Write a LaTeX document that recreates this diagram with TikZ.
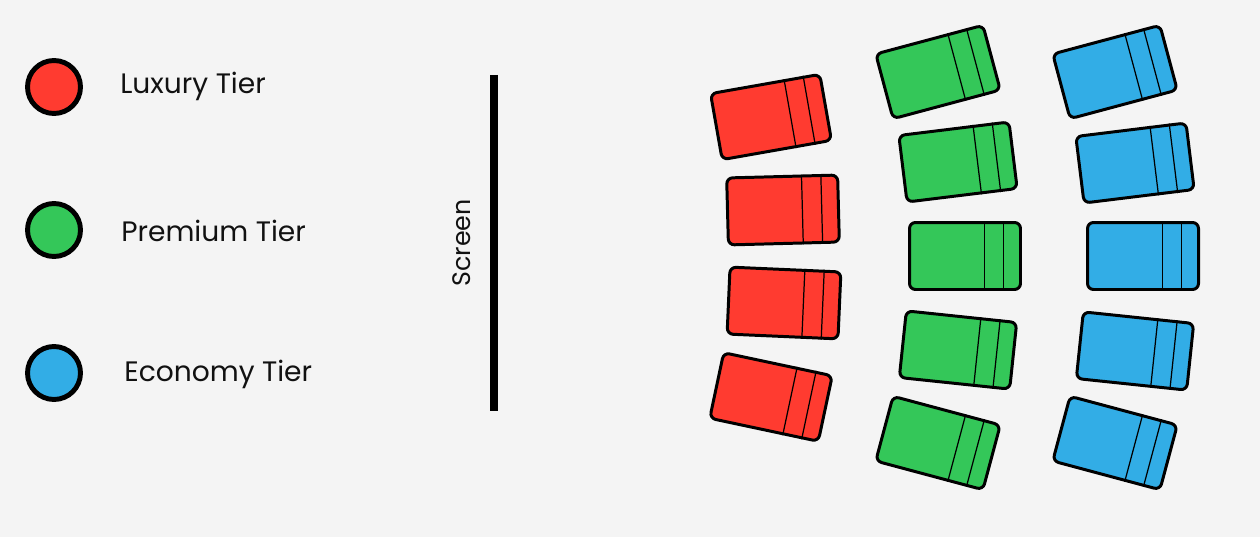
\documentclass[tikz,border=0pt]{standalone}
\usepackage{fontspec}
\setmainfont{Poppins}
\usepackage{tikz}
\usetikzlibrary{calc}

\definecolor{bg}{HTML}{F4F4F4}
\definecolor{luxury}{HTML}{FF3B30}
\definecolor{premium}{HTML}{34C759}
\definecolor{economy}{HTML}{32ADE6}
\definecolor{ink}{HTML}{111111}

\begin{document}
\begin{tikzpicture}[x=0.02cm,y=-0.02cm,
  dot/.style={circle,draw=black,line width=2.8pt,minimum size=1.06cm,inner sep=0pt},
  tier/.style={anchor=west,inner sep=0pt,text=ink,font=\fontsize{16}{18}\selectfont},
  seat/.style={rectangle,rounded corners=3.4pt,draw=black,line width=1.7pt,
    minimum width=2.22cm,minimum height=1.34cm,inner sep=0pt,fill=#1,
    append after command={\pgfextra{\let\seatnode\tikzlastnode}
      ($(\seatnode.north west)!0.67!(\seatnode.north east)$) edge[-,line width=0.7pt,draw=black]
      ($(\seatnode.south west)!0.67!(\seatnode.south east)$)
      ($(\seatnode.north west)!0.84!(\seatnode.north east)$) edge[-,line width=0.7pt,draw=black]
      ($(\seatnode.south west)!0.84!(\seatnode.south east)$)}}]

  \fill[bg] (0,0) rectangle (1260,537);
  \useasboundingbox (0,0) rectangle (1260,537);

  % legend
  \node[dot,fill=luxury] (d1) at (54,87) {};
  \node[dot,fill=premium] (d2) at (54,230) {};
  \node[dot,fill=economy] (d3) at (54,373) {};
  \node[tier] (t1) at (120,86) {Luxury Tier};
  \node[tier] (t2) at (121,231) {Premium Tier};
  \node[tier] (t3) at (124,374) {Economy Tier};

  % screen
  \coordinate (s top) at (494,75);
  \coordinate (s bottom) at (494,411);
  \draw[line width=4pt,black] (s top) -- (s bottom);
  \node[text=ink,font=\fontsize{14.4}{16}\selectfont,rotate=90] (screen) at (462,243) {Screen};

  % luxury seats
  \node[seat=luxury] (r1) at (771,117) [rotate=10] {};
  \node[seat=luxury] (r2) at (783,210) [rotate=1.5] {};
  \node[seat=luxury] (r3) at (784,303) [rotate=-2.5] {};
  \node[seat=luxury] (r4) at (771,397) [rotate=-12] {};

  % premium seats
  \node[seat=premium] (g1) at (938,72) [rotate=15] {};
  \node[seat=premium] (g2) at (958,162) [rotate=7] {};
  \node[seat=premium] (g3) at (965,256) {};
  \node[seat=premium] (g4) at (958,350) [rotate=-6] {};
  \node[seat=premium] (g5) at (938,443) [rotate=-15] {};

  % economy seats
  \node[seat=economy] (b1) at (1115,72) [rotate=15] {};
  \node[seat=economy] (b2) at (1135,163) [rotate=7] {};
  \node[seat=economy] (b3) at (1143,256) {};
  \node[seat=economy] (b4) at (1135,351) [rotate=-6] {};
  \node[seat=economy] (b5) at (1115,443) [rotate=-15] {};
\end{tikzpicture}
\end{document}
